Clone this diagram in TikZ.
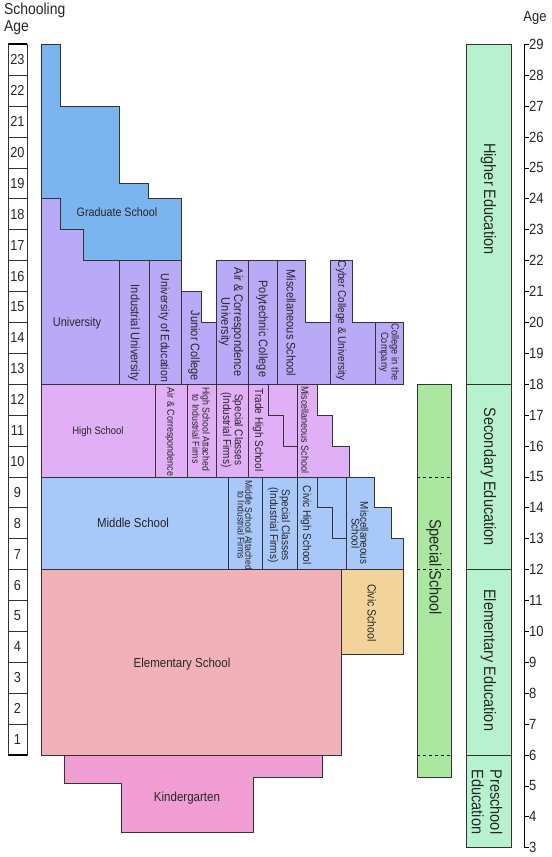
\documentclass[tikz,border=0pt]{standalone}
\usepackage{fontspec}
\setmainfont[FakeStretch=0.88]{Liberation Sans}
\definecolor{gradc}{RGB}{122,181,240}
\definecolor{univc}{RGB}{185,170,248}
\definecolor{highc}{RGB}{224,175,246}
\definecolor{midc}{RGB}{168,200,250}
\definecolor{elemc}{RGB}{242,176,184}
\definecolor{civicc}{RGB}{242,212,154}
\definecolor{kinderc}{RGB}{240,157,212}
\definecolor{specialc}{RGB}{170,232,160}
\definecolor{educ}{RGB}{182,242,206}
\begin{document}
\begin{tikzpicture}[x=1pt,y=30.9pt,
		box/.style={draw=black!80,line width=0.75pt},
		lbl/.style={inner sep=0pt,text=black!85,font=\pgfmathsetmacro\lblskip{0.8*#1}\fontsize{#1}{\lblskip}\selectfont},
		lbl/.default=12.5,
		vlbl/.style={lbl=#1,rotate=-90,align=center},
		vlbl/.default=12.5]
	\useasboundingbox (0,2.699) rectangle (552,30.434);
	% schooling age
	\node (saT1) at (4,30.11) [lbl=15.8,anchor=west] {Schooling};
	\node (saT2) at (4,29.53) [lbl=15.8,anchor=west] {Age};
	\foreach \n in {1,...,23}
	{
		\draw [black!80,line width=0.6pt] (8,\n+5) rectangle (27,\n+6);
		\node (sa\n) at (17.5,\n+5.5) [lbl=14.5] {\n};
	}
	\draw [line width=1.6pt] (8,29) -- (27,29);
	\draw [line width=1.6pt] (8,6) -- (27,6);
	% schools
	\draw [box,fill=gradc] (41,29) -| (60,27) -| (119,24.5) -| (148,24) -| (181,22) -| (83,23) -| (60,24) -| (41,29) -- cycle;
	\draw [box,fill=univc] (41,24) -| (60,23) -| (83,22) -| (181,21) -| (201,20) -| (216,22) -| (305,20) -| (330,22) -| (352,20) -| (403,18) -- (41,18) -- cycle;
	\foreach \x/\t in {119/22,149/22,181/21,216/22,248/22,277/22,330/22,375/20}
		\draw [box] (\x,18) -- (\x,\t);
	\draw [box,fill=highc] (41,18) -| (317,17) -| (332,16) -| (349,15) -- (41,15) -- cycle;
	\foreach \x in {155,187,216,248,297}
		\draw [box] (\x,15) -- (\x,18);
	\draw [box] (268,18) |- (283,17) |- (297,16);
	\draw [box,fill=midc] (41,15) -| (374,14) -| (391,13) -| (403,12) -- (41,12) -- cycle;
	\foreach \x in {228,262,297,346}
		\draw [box] (\x,12) -- (\x,15);
	\draw [box] (317,15) |- (332,14) |- (346,13);
	\draw [box,fill=elemc] (41,12) rectangle (341,6);
	\draw [box,fill=civicc] (341,12) rectangle (403,9.25);
	\draw [box,fill=kinderc] (64,6) -| (322,5.29) -| (253,3.48) -| (121,5.09) -| (64,6) -- cycle;
	\node (grad) at (117,23.57) [lbl=12.2] {Graduate School};
	\node (univ) at (77,19.98) [lbl] {University};
	\node (indUniv) at (134,19.66) [vlbl] {Industrial University};
	\node (univEdu) at (164,19.82) [vlbl=12] {University of Education};
	\node (junior) at (194,19.24) [vlbl] {Junior College};
	\node (airUniv) at (231,20.01) [vlbl] {Air \& Correspondence\\University};
	\node (poly) at (262,19.79) [vlbl] {Polytechnic College};
	\node (miscUniv) at (291,19.98) [vlbl] {Miscellaneous School};
	\node (cyber) at (341,20.05) [vlbl=11.4] {Cyber College \& University};
	\node (company) at (389,19.04) [vlbl=10.5] {College in the\\Company};
	\node (high) at (98,16.45) [lbl=10.8] {High School};
	\node (airHigh) at (170,16.45) [vlbl=10.2] {Air \& Correspondence};
	\node (hsFirm) at (201,16.55) [vlbl=9.9] {High School Attached\\to Industrial Firms};
	\node (spcHigh) at (232,16.52) [vlbl=11.4] {Special Classes\\(Industrial Firms)};
	\node (trade) at (258,16.52) [vlbl=11.4] {Trade High School};
	\node (miscHigh) at (305,16.52) [vlbl=10.2] {Miscellaneous School};
	\node (middle) at (133,13.51) [lbl=13] {Middle School};
	\node (msFirm) at (245,13.44) [vlbl=9.7] {Middle School Attached\\to Industrial Firms};
	\node (spcMid) at (279,13.44) [vlbl=11.4] {Special Classes\\(Industrial Firms)};
	\node (civicHigh) at (306,13.44) [vlbl=11.4] {Civic High School};
	\node (miscMid) at (360,13.18) [vlbl=11.2] {Miscellaneous\\School};
	\node (elem) at (182,8.94) [lbl=13.1] {Elementary School};
	\node (civic) at (372,10.6) [vlbl=11.9] {Civic School};
	\node (kinder) at (187,4.61) [lbl=13.1] {Kindergarten};
	% special school
	\draw [box,fill=specialc] (417,18) rectangle (451,5.26);
	\foreach \a in {15,12,6}
		\draw [dashed,line width=0.6pt] (417,\a) -- (451,\a);
	\node (special) at (434,12.08) [vlbl=16.5] {Special School};
	% education levels
	\draw [box,fill=educ] (466,29) rectangle (511,18);
	\draw [box,fill=educ] (466,18) rectangle (511,12);
	\draw [box,fill=educ] (466,12) rectangle (511,6);
	\draw [box,fill=educ] (466,6) rectangle (511,3);
	\node (higherEdu) at (488.5,24) [vlbl=16.5] {Higher Education};
	\node (secEdu) at (488.5,15) [vlbl=16.5] {Secondary Education};
	\node (elemEdu) at (488.5,9.07) [vlbl=16.5] {Elementary Education};
	\node (preEdu) at (487,4.48) [vlbl=16.5,font=\fontsize{16.5}{18.5}\selectfont] {Preschool\\Education};
	% age axis
	\node (ageT) at (535,29.85) [lbl=14.8] {Age};
	\draw [line width=0.7pt] (529,29) -- (524,29) -- (524,3) -- (529,3);
	\foreach \a in {3,...,29}
	{
		\draw [line width=0.7pt] (524,\a) -- (529,\a);
		\node (age\a) at (529,\a) [lbl=14.8,anchor=west] {\a};
	}
\end{tikzpicture}
\end{document}
